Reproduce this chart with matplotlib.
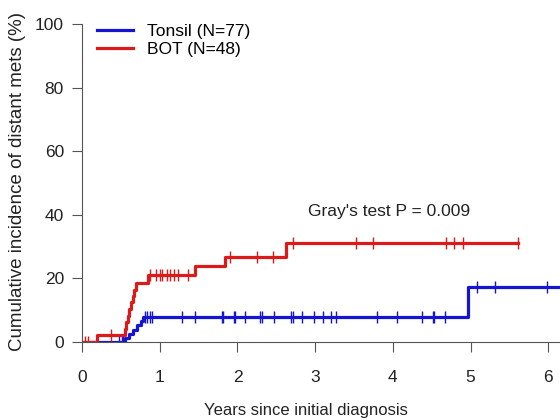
import matplotlib
matplotlib.use("Agg")
import matplotlib.pyplot as plt

plt.rcParams['font.family'] = ['Liberation Sans', 'DejaVu Sans']

# Tonsil: event times (years) and cumulative incidence (%) after each event
tonsil_times = [0.0, 0.55, 0.61, 0.65, 0.71, 0.76, 0.78, 4.97]
tonsil_cif = [0.0, 1.3, 2.6, 3.9, 5.2, 6.5, 8.0, 17.2]
tonsil_end = 6.3
tonsil_censor = [0.47, 0.51, 0.53, 0.81, 0.84, 0.87, 0.90, 1.29, 1.46, 1.80, 1.82,
                 1.95, 1.97, 2.10, 2.29, 2.31, 2.47, 2.69, 2.72, 2.83, 2.98, 3.10,
                 3.21, 3.27, 3.79, 4.05, 4.37, 4.51, 4.53, 4.67, 5.08, 5.31, 5.98]

# BOT
bot_times = [0.0, 0.19, 0.55, 0.57, 0.59, 0.61, 0.63, 0.65, 0.67, 0.70, 0.85, 1.45, 1.84, 2.63]
bot_cif = [0.0, 2.1, 4.2, 6.3, 8.3, 10.4, 12.5, 14.6, 16.5, 18.4, 21.0, 23.9, 26.8, 31.0]
bot_end = 5.61
bot_censor = [0.04, 0.08, 0.37, 0.88, 0.95, 1.0, 1.03, 1.09, 1.13, 1.19, 1.24, 1.37,
              1.90, 2.25, 2.46, 2.72, 3.53, 3.75, 4.68, 4.79, 4.90, 5.61]

groups = [("Tonsil (N=77)", tonsil_times, tonsil_cif, tonsil_end, tonsil_censor, "#1414d2"),
          ("BOT (N=48)", bot_times, bot_cif, bot_end, bot_censor, "#dc1a1a")]

FS = 12.5


def level_at(times, cif, t):
    val = 0.0
    for ti, ci in zip(times, cif):
        if ti <= t:
            val = ci
    return val


fig = plt.figure(figsize=(5.6, 4.2), dpi=100)
ax = fig.add_axes([82 / 560, 78 / 420, 478 / 560, 318 / 420])

for label, times, cif, end, censor, col in groups:
    xs = list(times) + [end]
    ys = list(cif) + [cif[-1]]
    ax.step(xs, ys, where="post", color=col, lw=2.3, label=label)
    cy = [level_at(times, cif, t) for t in censor]
    ax.plot(censor, cy, ls="none", marker="|", ms=8, mew=1.0, color=col)

ax.text(2.91, 41, "Gray's test P = 0.009", fontsize=FS, color="#222222", va="center")

ax.set_xlim(0, 6.15)
ax.set_ylim(0, 100)
ax.set_xticks(range(0, 7))
ax.set_yticks(range(0, 101, 20))
ax.tick_params(labelsize=FS, colors="#555555", labelcolor="#222222", length=7)
ax.tick_params(axis="x", pad=13)
ax.tick_params(axis="y", pad=6)
ax.spines["top"].set_visible(False)
ax.spines["right"].set_visible(False)
ax.spines["left"].set_bounds(0, 100)
for s in ("left", "bottom"):
    ax.spines[s].set_color("#555555")

ax.set_xlabel("Years since initial diagnosis", fontsize=12, color="#222222", va="center")
ax.xaxis.set_label_coords((306 - 82) / 478, -(410 - 342) / 318)
ax.set_ylabel("Cumulative incidence of distant mets (%)", fontsize=13.5, color="#222222", va="center")
ax.yaxis.set_label_coords(-(82 - 18) / 478, 0.506)

ax.legend(loc="upper left", bbox_to_anchor=(0.031, 1.0), frameon=False, fontsize=FS,
          borderpad=0, borderaxespad=0, labelspacing=0.15, handlelength=2.1)

fig.savefig("out.png", dpi=100)
